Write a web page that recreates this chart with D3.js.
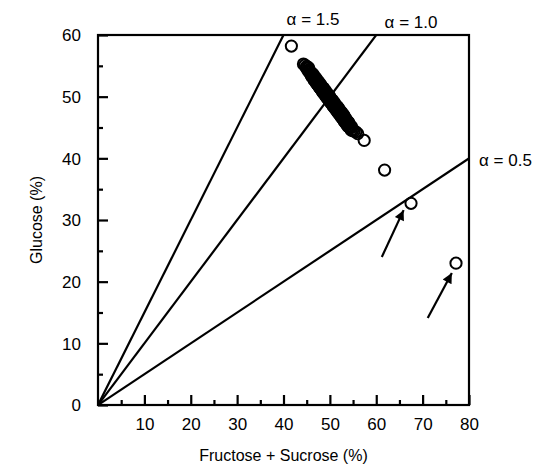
<!DOCTYPE html>
<html><head><meta charset="utf-8">
<script src="https://cdn.jsdelivr.net/npm/d3@7"></script>
<style>body{margin:0;background:#fff}svg{display:block}text{font-family:"Liberation Sans",Arial,sans-serif;fill:#000}</style>
</head><body>
<svg id="c" width="542" height="468"></svg>
<script>
// Data: Fructose + Sucrose (%) vs Glucose (%)
const fructoseSucrose = [41.7, 44.3,44.6,44.9,45.1,45.3,45.6,45.8,46.0,46.2,46.5,46.7,46.9,47.1,47.3,47.5,47.7,47.9,48.1,48.3,48.5,48.7,48.9,49.1,49.3,49.5,49.7,49.9,50.1,50.3,50.5,50.7,50.9,51.1,51.3,51.5,51.7,51.9,52.1,52.3,52.5,52.7,52.9,53.1,53.3,53.5,53.7,53.9,54.1,54.4,54.6,54.9,55.2,55.6,56.0,
  45.4,46.4,47.0,47.6,48.0,48.6,49.0,49.6,50.0,50.6,51.0,51.6,52.0,52.6,53.0,53.8,54.5, 45.9,46.8,47.5,48.2,48.8,49.5,50.2,50.8,51.5,52.2,52.8,53.5,54.2,
  46.1,46.6,47.2,47.8,48.4,49.0,49.7,50.4,51.1,51.8,52.4,53.0,53.6,
  45.7,46.3,46.9,47.4,48.1,48.7,49.3,50.0,50.6,51.3,51.9,52.6,53.2,53.9,54.7,
  45.0,45.5,46.1,46.7,47.3,47.9,48.5,49.1,49.8,50.4,51.0,51.7,52.3,52.9,53.5,54.1,
  57.4, 61.8, 67.5, 77.2];
const glucose = [58.2, 55.3,55.1,54.7,54.6,54.2,54.1,53.7,53.6,53.2,53.1,52.7,52.6,52.2,52.1,51.8,51.6,51.4,51.2,51.0,50.7,50.6,50.3,50.2,49.9,49.8,49.5,49.4,49.1,49.0,48.7,48.5,48.3,48.1,47.9,47.7,47.5,47.3,47.1,46.9,46.7,46.5,46.3,46.0,45.9,45.6,45.5,45.2,45.1,44.9,44.6,44.5,44.4,44.3,44.0,
  54.7,53.6,53.0,52.4,52.0,51.4,51.0,50.4,50.0,49.4,49.0,48.4,48.0,47.4,47.0,46.0,45.2, 53.6,52.6,51.9,51.2,50.6,49.9,49.2,48.6,47.9,47.2,46.6,45.9,45.1,
  53.3,52.7,52.1,51.5,50.9,50.3,49.6,48.9,48.2,47.5,46.9,46.3,45.7,
  54.1,53.5,52.9,52.4,51.7,51.1,50.5,49.8,49.2,48.5,47.9,47.2,46.6,45.9,45.1,
  54.9,54.4,53.8,53.2,52.6,52.0,51.4,50.8,50.1,49.5,48.9,48.2,47.6,47.0,46.4,45.8,
  42.9, 38.1, 32.7, 23.0];
const alphas = [1.5, 1.0, 0.5];
const alphaLabels = ["α = 1.5", "α = 1.0", "α = 0.5"];
const xTicks = [10,20,30,40,50,60,70,80];
const yTicks = [0,10,20,30,40,50,60];
const minorX = [5,15,25,35,45,55,65,75];
const minorY = [5,15,25,35,45,55];
// arrows: tail and tip in data units
const arrowTailX = [61.2, 71.1], arrowTailY = [24.0, 14.1];
const arrowTipX = [65.9, 76.3], arrowTipY = [31.6, 21.4];

const svg = d3.select("#c");
const x = d3.scaleLinear().domain([0,80]).range([98,469]);
const y = d3.scaleLinear().domain([0,60]).range([405,35]);

svg.append("defs").append("clipPath").attr("id","clip")
  .append("rect").attr("x",98).attr("y",35).attr("width",371).attr("height",370);

// alpha lines
const lg = svg.append("g").attr("clip-path","url(#clip)");
alphas.forEach(a=>{
  lg.append("line").attr("x1",x(0)).attr("y1",y(0)).attr("x2",x(100)).attr("y2",y(100*a))
    .attr("stroke","#000").attr("stroke-width",2.2);
});

// frame
svg.append("rect").attr("x",98).attr("y",35).attr("width",371).attr("height",370)
  .attr("fill","none").attr("stroke","#000").attr("stroke-width",2.2);

// axes (ticks inward)
const xAxis = d3.axisBottom(x).tickValues(xTicks).tickSize(-10).tickPadding(13).tickFormat(d3.format("d"));
const gx = svg.append("g").attr("transform",`translate(0,${y(0)})`).call(xAxis);
const yAxis = d3.axisLeft(y).tickValues(yTicks).tickSize(-10).tickPadding(17).tickFormat(d3.format("d"));
const gy = svg.append("g").attr("transform",`translate(${x(0)},0)`).call(yAxis);
[gx,gy].forEach(g=>{
  g.select(".domain").remove();
  g.selectAll(".tick line").attr("stroke","#000").attr("stroke-width",2.2);
  g.selectAll(".tick text").attr("font-size",17).attr("fill","#000").attr("font-family","Liberation Sans, Arial, sans-serif");
});
gy.selectAll(".tick text").attr("dy","0.35em");
svg.append("g").attr("transform",`translate(0,${y(0)})`)
  .call(d3.axisBottom(x).tickValues(minorX).tickSize(-5).tickFormat(""))
  .call(g=>{g.select(".domain").remove();g.selectAll("line").attr("stroke","#000").attr("stroke-width",2.2);});
svg.append("g").attr("transform",`translate(${x(0)},0)`)
  .call(d3.axisLeft(y).tickValues(minorY).tickSize(-5).tickFormat(""))
  .call(g=>{g.select(".domain").remove();g.selectAll("line").attr("stroke","#000").attr("stroke-width",2.2);});

// points
svg.append("g").selectAll("circle").data(glucose).join("circle")
  .attr("cx",(d,i)=>x(fructoseSucrose[i])).attr("cy",d=>y(d)).attr("r",5.6)
  .attr("fill","none").attr("stroke","#000").attr("stroke-width",2);

// alpha labels
svg.append("text").attr("x",313).attr("y",25).attr("text-anchor","middle").attr("font-size",17).text(alphaLabels[0]);
svg.append("text").attr("x",411).attr("y",28).attr("text-anchor","middle").attr("font-size",17).text(alphaLabels[1]);
svg.append("text").attr("x",479).attr("y",166).attr("text-anchor","start").attr("font-size",17).text(alphaLabels[2]);

// arrows
svg.append("defs").append("marker").attr("id","ah").attr("viewBox","0 0 10 10")
  .attr("refX",10).attr("refY",5).attr("markerWidth",15).attr("markerHeight",10)
  .attr("markerUnits","userSpaceOnUse").attr("orient","auto")
  .append("path").attr("d","M0,0L10,5L0,10Z").attr("fill","#000");
arrowTailX.forEach((tx,i)=>{
  svg.append("line").attr("x1",x(tx)).attr("y1",y(arrowTailY[i]))
    .attr("x2",x(arrowTipX[i])).attr("y2",y(arrowTipY[i]))
    .attr("stroke","#000").attr("stroke-width",2.2).attr("marker-end","url(#ah)");
});

// axis titles
svg.append("text").attr("x",(98+469)/2).attr("y",461).attr("text-anchor","middle").attr("font-size",16).text("Fructose + Sucrose (%)");
svg.append("text").attr("transform","translate(42,220) rotate(-90)").attr("text-anchor","middle").attr("font-size",16).text("Glucose (%)");
</script>
</body></html>
